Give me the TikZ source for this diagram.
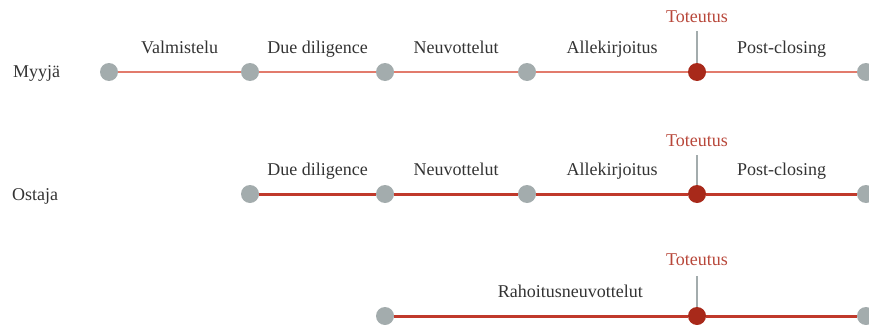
\documentclass[tikz,border=0pt]{standalone}
\usepackage{fontspec}
\setmainfont{Liberation Serif}
\usetikzlibrary{positioning}
\definecolor{stepgray}{HTML}{A3ACAD}
\definecolor{dealred}{HTML}{A8291A}
\definecolor{trackred}{HTML}{C0392B}
\definecolor{paletrack}{HTML}{E27B6C}
\definecolor{toteutusred}{HTML}{B8473A}
\definecolor{textgray}{HTML}{333333}
\tikzset{
  phase/.style={circle,fill=stepgray,inner sep=0pt,minimum size=18pt},
  closing/.style={phase,fill=dealred},
  phaselabel/.style={font=\fontsize{18}{20}\selectfont,text=textgray,anchor=base,yshift=19pt,inner sep=0pt},
  partylabel/.style={font=\fontsize{18}{20}\selectfont,text=textgray,anchor=base west,inner sep=0pt},
  dealtext/.style={font=\fontsize{18}{20}\selectfont,text=toteutusred,anchor=base,inner sep=0pt},
  thintrack/.style={draw=paletrack,line width=1.5pt},
  track/.style={draw=trackred,line width=3pt},
  marker/.style={draw=stepgray,line width=1.5pt}
}

\begin{document}
\begin{tikzpicture}[x=1pt,y=-1pt]
		\useasboundingbox (0,0) rectangle (869,324);

		% Myyja
		\node[partylabel] (myyja) at (13,77) {Myyjä};
		\node[phase] (m1) at (109,72) {};
		\node[phase] (m2) at (250,72) {};
		\node[phase] (m3) at (385,72) {};
		\node[phase] (m4) at (527,72) {};
		\node[closing] (m5) at (697,72) {};
		\node[phase] (m6) at (866,72) {};
		\draw[thintrack] (m1) -- node[phaselabel]{Valmistelu} (m2)
			-- node[phaselabel]{Due diligence} (m3)
			-- node[phaselabel]{Neuvottelut} (m4)
			-- node[phaselabel]{Allekirjoitus} (m5)
			-- node[phaselabel]{Post-closing} (m6);
		\coordinate (p1) at ([yshift=41pt]m5.center);
		\draw[marker] (m5) -- (p1);
		\node[dealtext] (t1) at ([yshift=50pt]m5.center) {Toteutus};

		% Ostaja
		\node[partylabel] (ostaja) at (12,200) {Ostaja};
		\node[phase] (o1) at (250,194) {};
		\node[phase] (o2) at (385,194) {};
		\node[phase] (o3) at (527,194) {};
		\node[closing] (o4) at (697,194) {};
		\node[phase] (o5) at (866,194) {};
		\draw[track] (o1) -- node[phaselabel]{Due diligence} (o2)
			-- node[phaselabel]{Neuvottelut} (o3)
			-- node[phaselabel]{Allekirjoitus} (o4)
			-- node[phaselabel]{Post-closing} (o5);
		\coordinate (p2) at ([yshift=39pt]o4.center);
		\draw[marker] (o4) -- (p2);
		\node[dealtext] (t2) at ([yshift=48pt]o4.center) {Toteutus};

		% rahoitus
		\node[phase] (r1) at (385,316) {};
		\node[closing] (r2) at (697,316) {};
		\node[phase] (r3) at (866,316) {};
		\draw[track] (r1) -- node[phaselabel,pos=0.6]{Rahoitusneuvottelut} (r2) -- (r3);
		\coordinate (p3) at ([yshift=40pt]r2.center);
		\draw[marker] (r2) -- (p3);
		\node[dealtext] (t3) at ([yshift=51pt]r2.center) {Toteutus};
\end{tikzpicture}
\end{document}
